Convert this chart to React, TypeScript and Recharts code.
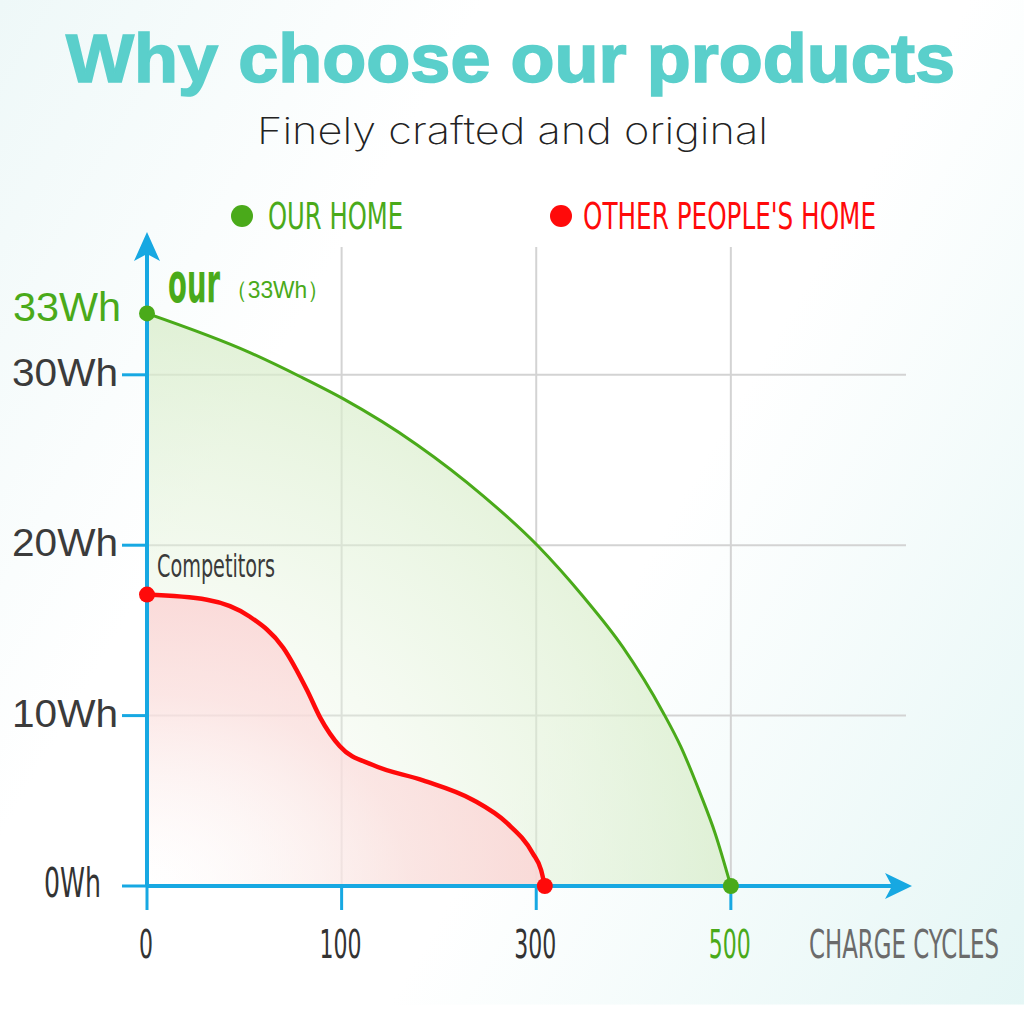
import React from 'react';
import { ComposedChart, Area, XAxis, YAxis, CartesianGrid, ReferenceDot } from 'recharts';

// ---- data ----
// x axis slots are evenly spaced but labelled 0 / 100 / 300 / 500 cycles
const xTickPos = [0, 1, 2, 3];
const xTickLabels = ['0', '100', '300', '500'];
const yTicks = [0, 10, 20, 30];
const yTickLabels = ['0Wh', '10Wh', '20Wh', '30Wh'];

// OUR HOME (x = axis slot position, y = Wh)
const ourPos = [0, 0.529, 0.786, 1.007, 1.387, 1.727, 2.009, 2.24, 2.446, 2.651, 2.744, 2.842, 2.919, 3.0];
const ourWh = [33.6, 31.3, 29.9, 28.6, 25.9, 22.9, 19.95, 17.0, 14.0, 10.2, 8.15, 5.45, 3.1, 0];

// OTHER PEOPLE'S HOME
const otherPos = [0, 0.308, 0.529, 0.699, 0.822, 0.889, 0.991, 1.161, 1.418, 1.675, 1.849, 1.983, 2.025, 2.044];
const otherWh = [17.1, 16.8, 15.8, 14.0, 11.5, 9.9, 8.2, 7.1, 6.2, 5.05, 3.7, 1.9, 0.94, 0];

const X_MAX = 3.9;
const Y_MAX = 37.5;

const rows = [
  ...ourPos.map((p, i) => ({ pos: p, our: ourWh[i] })),
  ...otherPos.map((p, i) => ({ pos: p, other: otherWh[i] })),
].sort((a, b) => a.pos - b.pos);

// ---- styles ----
const BLUE = '#17a8e2';
const GREEN = '#4aaa1a';
const RED = '#ff0a0a';
const TEAL = '#5acfcb';
const COND = "'DejaVu Sans Condensed', 'Liberation Sans Narrow', 'DejaVu Sans', sans-serif";
const SANS = "'Liberation Sans', Arial, sans-serif";

const XTick = (props: any) => {
  const { x, y, payload } = props;
  const i = xTickPos.indexOf(payload.value);
  const label = xTickLabels[i] ?? String(payload.value);
  const len = label.length * 14;
  const isLast = i === xTickLabels.length - 1;
  return (
    <text
      x={x - len / 2 - 1}
      y={y + 46}
      fontFamily={COND}
      fontSize={39}
      fill={isLast ? GREEN : '#333333'}
      textLength={len}
      lengthAdjust="spacingAndGlyphs"
    >
      {label}
    </text>
  );
};

const YTick = (props: any) => {
  const { y, payload } = props;
  const i = yTicks.indexOf(payload.value);
  const label = yTickLabels[i] ?? String(payload.value);
  if (i === 0) {
    return (
      <text x={44} y={y + 11} fontFamily={COND} fontSize={41} fill="#333333" textLength={57} lengthAdjust="spacingAndGlyphs">
        {label}
      </text>
    );
  }
  return (
    <text x={118 - 106} y={y + 11} fontFamily={SANS} fontSize={38} fill="#3b3b3b" textLength={106} lengthAdjust="spacingAndGlyphs">
      {label}
    </text>
  );
};

const OurStartDot = (props: any) => {
  const { cx, cy } = props;
  return (
    <g>
      <circle cx={cx} cy={cy} r={8} fill={GREEN} />
      <text x={cx - 134} y={cy + 8} fontFamily={SANS} fontSize={41} fill={GREEN} textLength={108} lengthAdjust="spacingAndGlyphs">
        33Wh
      </text>
      <text
        transform={`translate(${cx + 21},${cy - 11}) scale(1,1.6)`}
        x={0}
        y={0}
        fontFamily={COND}
        fontWeight="bold"
        fontSize={34}
        fill={GREEN}
        textLength={52}
        lengthAdjust="spacingAndGlyphs"
      >
        our
      </text>
      <text x={cx + 78} y={cy - 15} fontFamily={SANS} fontSize={24} fill={GREEN} textLength={105} lengthAdjust="spacingAndGlyphs">
        （33Wh）
      </text>
    </g>
  );
};

const OtherStartDot = (props: any) => {
  const { cx, cy } = props;
  return (
    <g>
      <circle cx={cx} cy={cy} r={8} fill={RED} />
      <text x={cx + 10} y={cy - 18} fontFamily={COND} fontSize={32} fill="#3a3a3a" textLength={118} lengthAdjust="spacingAndGlyphs">
        Competitors
      </text>
    </g>
  );
};

const UpArrow = (props: any) => {
  const { cx, cy } = props;
  return <polygon points={`${cx},${cy - 15} ${cx + 13},${cy + 14} ${cx},${cy + 7} ${cx - 13},${cy + 14}`} fill={BLUE} />;
};

const RightArrow = (props: any) => {
  const { cx, cy } = props;
  return <polygon points={`${cx + 6},${cy} ${cx - 21},${cy - 13} ${cx - 14},${cy} ${cx - 21},${cy + 13}`} fill={BLUE} />;
};

const EndDot = (color: string) => (props: any) => <circle cx={props.cx} cy={props.cy} r={8} fill={color} />;

const hGen = (p: any) => {
  const sc = p?.yAxis?.scale;
  return yTicks
    .filter((t) => t > 0)
    .map((t) => (typeof sc === 'function' ? sc(t) : p.offset.top + p.offset.height * (1 - t / Y_MAX)));
};
const vGen = (p: any) => {
  const sc = p?.xAxis?.scale;
  return xTickPos
    .filter((t) => t > 0)
    .map((t) => (typeof sc === 'function' ? sc(t) : p.offset.left + (p.offset.width * t) / X_MAX));
};

export default function App() {
  return (
    <div
      style={{
        position: 'relative',
        width: 1024,
        height: 1024,
        background:
          'linear-gradient(180deg, rgba(255,255,255,0) 0%, rgba(255,255,255,0) 98%, #ffffff 98.2%), linear-gradient(120deg, #eef8f8 0%, #ffffff 30%, #ffffff 60%, #e4f6f5 100%)',
      }}
    >
      <style>{'body{margin:0}'}</style>
      <ComposedChart
        width={1024}
        height={1024}
        data={rows}
        margin={{ top: 247, right: 118, bottom: 0, left: 0 }}
      >
        <defs>
          <radialGradient id="gFill" cx="0" cy="1" r="1.15" fx="0" fy="1">
            <stop offset="0%" stopColor="#ffffff" stopOpacity={0.1} />
            <stop offset="55%" stopColor="#e2f2d8" stopOpacity={0.5} />
            <stop offset="100%" stopColor="#d3eac2" stopOpacity={0.85} />
          </radialGradient>
          <radialGradient id="rFill" cx="0" cy="1" r="1.1" fx="0" fy="1">
            <stop offset="0%" stopColor="#ffffff" stopOpacity={0.3} />
            <stop offset="60%" stopColor="#fcdcdc" stopOpacity={0.7} />
            <stop offset="100%" stopColor="#fbd3d3" stopOpacity={0.9} />
          </radialGradient>
        </defs>
        <CartesianGrid
          stroke="#d3d3d3"
          strokeWidth={2}
          horizontalCoordinatesGenerator={hGen}
          verticalCoordinatesGenerator={vGen}
        />
        <XAxis
          dataKey="pos"
          type="number"
          domain={[0, X_MAX]}
          ticks={xTickPos}
          interval={0}
          height={138}
          tickSize={24}
          tickLine={{ stroke: BLUE, strokeWidth: 3 }}
          axisLine={{ stroke: BLUE, strokeWidth: 4 }}
          tick={<XTick />}
          allowDataOverflow
        />
        <YAxis
          type="number"
          domain={[0, Y_MAX]}
          ticks={yTicks}
          interval={0}
          width={147}
          tickSize={25}
          tickLine={{ stroke: BLUE, strokeWidth: 3 }}
          axisLine={{ stroke: BLUE, strokeWidth: 4 }}
          tick={<YTick />}
          allowDataOverflow
        />
        <Area
          type="monotone"
          dataKey="our"
          stroke={GREEN}
          strokeWidth={3}
          fill="url(#gFill)"
          fillOpacity={1}
          connectNulls
          dot={false}
          activeDot={false}
          isAnimationActive={false}
        />
        <Area
          type="monotone"
          dataKey="other"
          stroke={RED}
          strokeWidth={4.5}
          fill="url(#rFill)"
          fillOpacity={1}
          connectNulls
          dot={false}
          activeDot={false}
          isAnimationActive={false}
        />
        <ReferenceDot x={0} y={Y_MAX} ifOverflow="visible" shape={<UpArrow />} />
        <ReferenceDot x={X_MAX} y={0} ifOverflow="visible" shape={<RightArrow />} />
        <ReferenceDot x={ourPos[0]} y={ourWh[0]} ifOverflow="visible" shape={<OurStartDot />} />
        <ReferenceDot x={ourPos[ourPos.length - 1]} y={ourWh[ourWh.length - 1]} ifOverflow="visible" shape={EndDot(GREEN)} />
        <ReferenceDot x={otherPos[0]} y={otherWh[0]} ifOverflow="visible" shape={<OtherStartDot />} />
        <ReferenceDot x={otherPos[otherPos.length - 1]} y={otherWh[otherWh.length - 1]} ifOverflow="visible" shape={EndDot(RED)} />
      </ComposedChart>
      <svg
        width={1024}
        height={1024}
        style={{ position: 'absolute', left: 0, top: 0, pointerEvents: 'none' }}
      >
        <text x={66} y={82} fontFamily={SANS} fontWeight="bold" fontSize={68} fill={TEAL} stroke={TEAL} strokeWidth={1.6} textLength={889} lengthAdjust="spacingAndGlyphs">
          Why choose our products
        </text>
        <text x={257} y={144} fontFamily="Inter, Lato, 'Liberation Sans', sans-serif" fontWeight={200} fontSize={37} fill="#222222" textLength={511} lengthAdjust="spacingAndGlyphs">
          Finely crafted and original
        </text>
        <circle cx={242} cy={216} r={11} fill={GREEN} />
        <text x={268} y={229} fontFamily={COND} fontSize={38} fill={GREEN} textLength={135} lengthAdjust="spacingAndGlyphs">
          OUR HOME
        </text>
        <circle cx={561} cy={216} r={11} fill={RED} />
        <text x={583} y={229} fontFamily={COND} fontSize={38} fill={RED} textLength={293} lengthAdjust="spacingAndGlyphs">
          OTHER PEOPLE'S HOME
        </text>
        <text
          transform="translate(809,958) scale(1,1.55)"
          x={0}
          y={0}
          fontFamily={COND}
          fontSize={25}
          fill="#6b6b6b"
          textLength={190}
          lengthAdjust="spacingAndGlyphs"
        >
          CHARGE  CYCLES
        </text>
      </svg>
    </div>
  );
}
